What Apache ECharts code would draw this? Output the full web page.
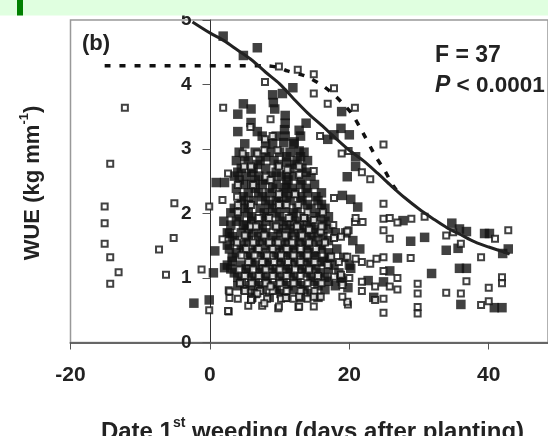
<!DOCTYPE html>
<html><head><meta charset="utf-8">
<script src="https://cdn.jsdelivr.net/npm/echarts@6/dist/echarts.min.js"></script>
<style>html,body{margin:0;padding:0;background:#fff}#c{width:548px;height:436px}</style>
</head><body><div id="c"></div>
<script>
// ---- data ----
const xTickValues = [-20, 0, 20, 40];
const yTickValues = [0, 1, 2, 3, 4, 5];

// filled squares
const filledPts = [
[1.9,4.75],[6.8,4.57],[4.8,4.45],[11.9,3.95],[18.9,3.58],[9.0,3.84],[9.3,3.62],[9.1,3.72],[10.4,3.86],
[4.8,3.70],[5.9,3.62],[4.0,3.54],[5.9,3.41],[4.0,3.27],[6.8,3.27],[10.8,3.52],[13.8,3.40],[12.8,3.29],
[16.9,3.15],[17.8,3.22],[18.8,3.32],[20.0,3.22],[12.1,3.11],[12.8,2.97],[20.9,2.88],[20.9,2.73],[19.7,2.57],
[0.9,2.48],[2.1,2.48],[2.0,1.88],[0.7,1.42],[0.5,1.08],[2.1,1.16],[-0.1,0.66],[-2.3,0.61],[4.8,1.82],[2.8,1.69],
[19.0,2.28],[20.2,2.22],[21.2,2.10],[16.2,1.25],[27.7,1.89],[30.8,1.63],[28.8,1.57],[34.7,1.85],[35.8,1.76],
[36.8,1.72],[35.6,1.46],[33.9,1.43],[39.4,1.69],[40.1,1.69],[42.0,1.38],[42.8,1.45],[35.8,1.15],[36.8,1.15],
[31.8,1.07],[36.0,0.59],[40.8,0.54],[41.9,0.54],[25.8,1.11],[24.9,0.94],[26.9,1.31],[22.7,0.96],[23.5,0.70],
[18.8,1.0],[19.8,0.85],[20.2,1.15],[10.7,3.3],[10.6,3.1],[11.0,2.8],[10.8,3.4],[10.8,3.2],[11.0,2.6],[10.8,2.4],
[7.5,3.20],[9.5,3.20],[13.0,3.20],
[5.0,3.08],[8.0,3.08],[9.0,3.08],[12.0,3.08],
[4.2,2.95],[6.5,2.95],[8.5,2.95],[10.0,2.95],[11.5,2.95],[13.5,2.95],
[3.8,2.82],[5.5,2.82],[7.2,2.82],[9.2,2.82],[12.5,2.82],[14.0,2.82],
[4.5,2.70],[6.2,2.70],[8.0,2.70],[11.5,2.70],[13.2,2.70],
[3.5,2.58],[5.2,2.58],[7.0,2.58],[8.8,2.58],[10.2,2.58],[12.0,2.58],[14.5,2.58],
[4.8,2.45],[6.0,2.45],[7.5,2.45],[9.5,2.45],[11.0,2.45],[13.0,2.45],[15.0,2.45],
[5.5,2.32],[7.0,2.32],[8.5,2.32],[10.5,2.32],[12.2,2.32],[14.0,2.32],[16.0,2.32],
[4.5,2.20],[6.2,2.20],[8.0,2.20],[9.5,2.20],[11.5,2.20],[13.2,2.20],[15.5,2.20],
[3.5,2.08],[5.0,2.08],[7.2,2.08],[9.0,2.08],[10.8,2.08],[12.5,2.08],[14.5,2.08],[16.5,2.08],
[4.2,1.95],[6.0,1.95],[8.2,1.95],[10.0,1.95],[11.8,1.95],[13.5,1.95],[15.2,1.95],[17.0,1.95],
[3.0,1.82],[5.2,1.82],[7.0,1.82],[9.2,1.82],[11.0,1.82],[12.8,1.82],[14.5,1.82],[16.2,1.82],
[2.5,1.70],[4.5,1.70],[6.2,1.70],[8.0,1.70],[10.2,1.70],[12.0,1.70],[13.8,1.70],[15.5,1.70],[18.0,1.70],[19.5,1.70],
[3.5,1.58],[5.5,1.58],[7.5,1.58],[9.5,1.58],[11.2,1.58],[13.0,1.58],[14.8,1.58],[17.0,1.58],[20.5,1.58],
[2.8,1.45],[4.8,1.45],[6.8,1.45],[8.8,1.45],[10.5,1.45],[12.2,1.45],[14.0,1.45],[16.0,1.45],[18.2,1.45],[21.5,1.45],
[3.2,1.32],[5.8,1.32],[7.8,1.32],[9.8,1.32],[11.5,1.32],[13.5,1.32],[15.2,1.32],[17.2,1.32],[19.2,1.32],
[2.5,1.20],[4.5,1.20],[6.5,1.20],[8.5,1.20],[10.8,1.20],[12.8,1.20],[14.5,1.20],[17.8,1.20],[20.0,1.20],
[3.5,1.08],[5.5,1.08],[7.2,1.08],[9.2,1.08],[11.5,1.08],[13.8,1.08],[15.8,1.08],[18.5,1.08],
[4.5,0.95],[6.5,0.95],[8.2,0.95],[10.5,0.95],[12.5,0.95],[14.8,0.95],[17.0,0.95],[19.0,0.95],
[5.0,0.82],[7.5,0.82],[9.5,0.82],[11.8,0.82],[13.5,0.82],[16.5,0.82],
[6.0,0.70],[8.5,0.70],[10.8,0.70],[13.0,0.70],[15.5,0.70],
[5.0,2.88],[8.0,2.88],[11.0,2.88],[13.0,2.88],
[6.8,2.76],[9.8,2.76],[12.2,2.76],
[4.0,2.64],[6.0,2.64],[9.5,2.64],[13.8,2.64],
[4.2,2.52],[6.5,2.52],[8.0,2.52],[11.2,2.52],[13.2,2.52],
[3.8,2.39],[6.5,2.39],[9.0,2.39],[11.8,2.39],[13.8,2.39],
[4.8,2.26],[7.5,2.26],[9.8,2.26],[11.0,2.26],[13.0,2.26],[15.2,2.26],
[5.5,2.14],[8.5,2.14],[10.2,2.14],[14.0,2.14],[16.0,2.14],
[3.0,2.01],[5.5,2.01],[7.8,2.01],[9.5,2.01],[12.0,2.01],[15.8,2.01],
[3.8,1.88],[6.0,1.88],[8.0,1.88],[10.5,1.88],[12.2,1.88],[14.0,1.88],[16.5,1.88],
[5.5,1.76],[7.5,1.76],[9.8,1.76],[11.5,1.76],[13.2,1.76],[15.0,1.76],[17.0,1.76],
[3.2,1.64],[5.2,1.64],[7.0,1.64],[9.0,1.64],[11.0,1.64],[12.8,1.64],[14.5,1.64],[16.2,1.64],
[2.5,1.51],[4.5,1.51],[6.5,1.51],[8.2,1.51],[10.2,1.51],[12.0,1.51],[13.8,1.51],[15.8,1.51],
[3.8,1.39],[5.8,1.39],[7.5,1.39],[9.5,1.39],[11.2,1.39],[13.0,1.39],[15.0,1.39],[17.0,1.39],
[3.2,1.26],[6.0,1.26],[8.0,1.26],[10.0,1.26],[12.0,1.26],[14.0,1.26],[16.5,1.26],
[3.0,1.14],[5.2,1.14],[7.5,1.14],[9.5,1.14],[11.2,1.14],[13.2,1.14],[15.2,1.14],[17.0,1.14],
[4.0,1.01],[6.0,1.01],[8.0,1.01],[10.0,1.01],[12.0,1.01],[14.5,1.01],[16.5,1.01],
[4.0,0.88],[5.8,0.88],[7.0,0.88],[9.2,0.88],[11.2,0.88],[13.2,0.88],[15.5,0.88],[18.0,0.88],
[6.5,0.76],[10.2,0.76],[14.5,0.76]
];

// open squares
const openPts = [
[-12.2,3.64],[-14.3,2.77],[1.9,3.64],[-15.1,2.11],[-15.1,1.85],[-15.1,1.53],[-14.3,1.32],[-13.1,1.09],[-14.3,0.91],
[-5.1,2.16],[-5.2,1.62],[-7.3,1.44],[-6.3,1.05],[-1.2,1.13],[-0.1,2.11],[-0.1,0.5],[2.7,0.48],[1.8,1.6],[2.7,0.81],
[1.8,2.21],[9.9,4.28],[12.6,4.23],[14.9,4.16],[7.9,4.04],[14.9,3.86],[17.8,3.94],[16.9,3.70],[20.8,3.64],[8.7,3.46],
[5.8,3.34],[15.8,3.20],[24.9,3.07],[18.9,2.93],[19.9,2.97],[21.8,2.64],[23.0,2.53],[2.6,2.62],[14.9,2.66],[24.9,2.15],
[24.9,1.92],[25.8,1.93],[26.9,1.86],[28.9,1.92],[24.9,1.74],[25.8,1.61],[30.8,1.95],[33.9,1.66],[34.9,1.71],[36.0,1.53],
[40.9,1.61],[42.8,1.74],[38.9,1.32],[36.8,0.95],[41.9,1.01],[41.9,0.92],[40.0,0.85],[33.9,0.77],[36.0,0.76],[38.9,0.58],
[40.0,0.64],[29.8,0.91],[29.8,0.76],[29.8,0.55],[29.8,0.45],[24.9,0.68],[24.9,0.46],[24.9,1.32],[24.9,1.11],[25.8,0.87],
[26.9,1.0],[26.9,0.82],[28.8,1.31],[20.8,1.87],[21.9,1.87],[19.9,1.74],[21.8,1.25],[23.0,1.22],[23.9,1.30],[21.8,0.94],
[23.7,0.87],[21.8,0.80],[23.7,0.66],[19.8,0.59],[14.9,0.56],[12.7,0.55],[9.8,0.53],[2.6,0.49],[17.8,2.24],[20.9,1.93],
[17.7,1.82],[19.7,1.72],[18.8,1.64],[17.8,1.62],[17.4,1.33],[18.5,1.25],[19.7,1.33],[16.9,1.2],[18.8,1.05],[20.0,1.0],
[19.7,0.63],[20.9,1.30],[19.0,0.89],[19.0,0.71],[17.8,1.02],[14.9,1.90],[15.9,1.72],[14.2,1.75],
[7.9,3.15],[9.0,3.20],[7.8,2.98],[9.7,2.98],[4.7,2.93],[6.8,2.93],[4.9,2.73],[5.9,2.73],[9.9,2.73],[12.8,2.73],
[11.1,2.68],[8.0,2.57],[12.8,2.60],[8.7,2.52],[4.0,2.44],[6.2,2.44],[3.9,2.26],[9.9,2.30],[12.2,2.30],
[4.0,2.13],[5.9,2.13],[9.9,2.13],[12.7,2.13],[11.0,2.13],[4.0,2.02],[14.0,2.02],[16.2,2.02],
[7.0,1.93],[8.5,1.93],[11.3,1.93],[13.5,1.93],[5.9,1.80],[6.6,1.80],[9.5,1.80],[12.5,1.80],[16.0,1.80],
[5.0,1.66],[7.8,1.66],[10.8,1.66],[13.2,1.66],
[3.9,1.55],[6.2,1.55],[8.5,1.55],[9.8,1.55],[11.8,1.55],[14.2,1.55],[16.5,1.55],
[5.2,1.45],[7.0,1.45],[9.0,1.45],[11.0,1.45],[13.0,1.45],[15.2,1.45],
[4.5,1.35],[6.4,1.35],[8.2,1.35],[10.2,1.35],[12.0,1.35],[14.0,1.35],
[5.5,1.25],[7.5,1.25],[9.2,1.25],[11.2,1.25],[13.0,1.25],[15.0,1.25],
[4.2,1.13],[6.2,1.13],[8.0,1.13],[10.0,1.13],[12.2,1.13],[14.2,1.13],
[5.0,1.03],[7.0,1.03],[9.0,1.03],[11.0,1.03],[13.0,1.03],[15.5,1.03],
[4.3,0.92],[6.0,0.92],[8.0,0.92],[10.0,0.92],[12.0,0.92],[14.0,0.92],[16.0,0.92],
[5.0,0.80],[7.2,0.80],[9.0,0.80],[11.0,0.80],[13.0,0.80],[15.0,0.80],[2.8,0.79],[6.8,0.76],[8.7,0.87],
[4.0,0.68],[6.0,0.68],[8.2,0.68],[10.2,0.68],[12.0,0.68],[14.0,0.68],[2.8,0.69],[10.9,0.69],[12.8,0.71],[14.9,0.71],[15.9,0.71],
[5.5,0.57],[7.5,0.57],[5.9,0.66],[7.8,0.61],[9.9,0.56],[12.8,0.56]
];

// fitted curve (solid)
const fitCurve = [
[-2.5,4.97],[0,4.80],[2,4.68],[4,4.53],[6,4.38],[8,4.19],[10,4.01],[12,3.78],[14,3.56],[16,3.37],[18,3.17],
[20,2.98],[22,2.82],[24,2.63],[26,2.43],[28,2.24],[30,2.07],[32,1.92],[34,1.78],[36,1.67],[38,1.56],[40,1.48],[42,1.41],[43,1.37]
];
// threshold line (dotted)
const thresholdCurve = [
[-15.1,4.29],[8,4.29],[10,4.26],[11.1,4.21],[13.7,4.13],[15.9,4.0],[17.5,3.87],[19.2,3.69],[20.4,3.54],
[21.8,3.28],[23.7,2.9],[25.1,2.66],[26.3,2.43],[27.6,2.25]
];

const FONT = '"Liberation Sans", Arial, sans-serif';
const GRID_LEFT = 70.5;
const ZERO_X = 210.5;

const chart = echarts.init(document.getElementById('c'), null, {renderer: 'canvas'});
chart.setOption({
  animation: false,
  backgroundColor: '#fff',
  grid: {left: GRID_LEFT, top: 20, right: -2, bottom: 93.5, show: true, borderColor: '#999', borderWidth: 1.5, backgroundColor: 'transparent'},
  xAxis: {
    type: 'value', min: xTickValues[0], max: 48.5, interval: 20,
    axisLine: {onZero: false, lineStyle: {color: '#666', width: 2}},
    axisTick: {show: true, length: 7, lineStyle: {color: '#555', width: 1}},
    splitLine: {show: false},
    axisLabel: {fontSize: 21, fontWeight: 'bold', color: '#222', margin: 22, fontFamily: FONT, showMaxLabel: false,
      formatter: v => xTickValues.includes(v) ? String(v) : ''}
  },
  yAxis: {
    type: 'value', min: yTickValues[0], max: yTickValues[yTickValues.length-1], interval: 1,
    offset: -(ZERO_X - GRID_LEFT),
    axisLine: {onZero: false, lineStyle: {color: '#333', width: 1}},
    axisTick: {show: true, length: 8, lineStyle: {color: '#555', width: 1}},
    splitLine: {show: false},
    axisLabel: {fontSize: 19, fontWeight: 'bold', color: '#222', margin: 19, fontFamily: FONT}
  },
  series: [
    {type: 'scatter', data: filledPts, symbol: 'rect', symbolSize: 9.5, itemStyle: {color: '#111'}, silent: true, z: 2},
    {type: 'scatter', data: openPts, symbol: 'rect', symbolSize: 6, itemStyle: {color: '#fff', borderColor: '#111', borderWidth: 2}, silent: true, z: 3},
    {type: 'line', data: thresholdCurve, showSymbol: false, smooth: 0.3, lineStyle: {color: '#111', width: 3.5, type: [6, 9]}, silent: true, z: 4},
    {type: 'line', data: fitCurve, showSymbol: false, smooth: 0.3, lineStyle: {color: '#222', width: 3}, silent: true, z: 5}
  ],
  graphic: [
    {type: 'rect', left: 0, top: 0, shape: {width: 548, height: 15.5}, style: {fill: '#e0ffe0'}, z: 100},
    {type: 'rect', left: 17, top: 0, shape: {width: 6, height: 15.5}, style: {fill: '#008000'}, z: 101},
    {type: 'text', left: 82, top: 33, style: {text: '(b)', font: 'bold 22px ' + FONT, fill: '#222'}, z: 50},
    {type: 'text', left: 435, top: 44, style: {text: 'F = 37', font: 'bold 23px ' + FONT, fill: '#222'}, z: 50},
    {type: 'text', left: 435, top: 74, style: {text: '{i|P}{n| < 0.0001}', font: 'bold 23px ' + FONT, fill: '#222',
      rich: {i: {fontStyle: 'italic', fontWeight: 'bold', fontSize: 23, fontFamily: FONT}, n: {fontWeight: 'bold', fontSize: 22.5, fontFamily: FONT}}}, z: 50},
    {type: 'text', x: 31, y: 183, rotation: Math.PI/2,
      style: {text: '{a|WUE (kg mm}{s|-1}{a|)}', align: 'center', verticalAlign: 'middle', fill: '#222',
        rich: {a: {fontSize: 22, fontWeight: 'bold', fontFamily: FONT, lineHeight: 26, verticalAlign: 'bottom'},
               s: {fontSize: 13, fontWeight: 'bold', fontFamily: FONT, lineHeight: 13, verticalAlign: 'top'}}}, z: 50},
    {type: 'text', x: 312.5, y: 430,
      style: {text: '{a|Date 1}{s|st}{a| weeding (days after planting)}', align: 'center', verticalAlign: 'middle', fill: '#222',
        rich: {a: {fontSize: 24, fontWeight: 'bold', fontFamily: FONT, lineHeight: 28, verticalAlign: 'bottom'},
               s: {fontSize: 14, fontWeight: 'bold', fontFamily: FONT, lineHeight: 14, verticalAlign: 'top'}}}, z: 50}
  ]
});
</script>
</body></html>
